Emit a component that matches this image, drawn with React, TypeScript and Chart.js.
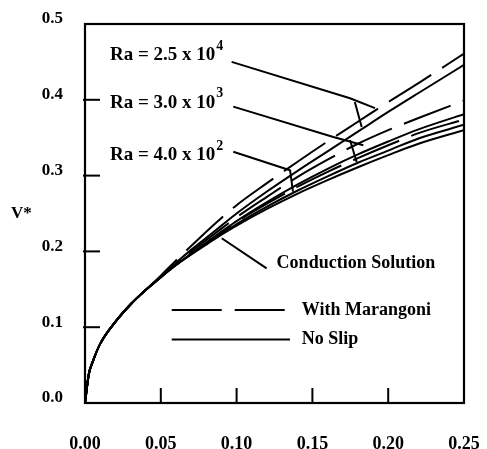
import React, { useEffect, useRef } from "react";
import { Chart, registerables } from "chart.js";

Chart.register(...registerables);

// x = dimensionless position, y = V*
const xs = [0, 0.0025, 0.005, 0.01, 0.02, 0.03, 0.04, 0.05, 0.06, 0.07, 0.08, 0.09, 0.10, 0.12, 0.14, 0.16, 0.18, 0.20, 0.22, 0.25];
const conduction = [0, 0.038, 0.054, 0.078, 0.107, 0.130, 0.149, 0.166, 0.182, 0.196, 0.209, 0.222, 0.234, 0.256, 0.276, 0.294, 0.311, 0.327, 0.342, 0.360];
const ra400NoSlip = [0, 0.038, 0.054, 0.078, 0.107, 0.130, 0.149, 0.166, 0.182, 0.196, 0.210, 0.223, 0.236, 0.259, 0.280, 0.299, 0.317, 0.333, 0.349, 0.367];
const ra400Marangoni = [0, 0.038, 0.054, 0.078, 0.107, 0.130, 0.149, 0.166, 0.182, 0.197, 0.211, 0.225, 0.239, 0.263, 0.285, 0.305, 0.323, 0.340, 0.356, 0.374];
const ra3000NoSlip = [0, 0.038, 0.054, 0.078, 0.107, 0.130, 0.149, 0.166, 0.182, 0.197, 0.212, 0.226, 0.240, 0.265, 0.288, 0.309, 0.328, 0.345, 0.361, 0.381];
const ra3000Marangoni = [0, 0.038, 0.054, 0.078, 0.107, 0.130, 0.149, 0.166, 0.184, 0.200, 0.215, 0.230, 0.245, 0.272, 0.298, 0.321, 0.342, 0.360, 0.376, 0.399];
const ra25000NoSlip = [0, 0.038, 0.054, 0.078, 0.107, 0.130, 0.149, 0.167, 0.185, 0.202, 0.218, 0.234, 0.250, 0.279, 0.306, 0.332, 0.358, 0.384, 0.409, 0.446];
const ra25000Marangoni = [0, 0.038, 0.054, 0.078, 0.107, 0.130, 0.149, 0.168, 0.188, 0.207, 0.226, 0.244, 0.261, 0.290, 0.318, 0.345, 0.371, 0.397, 0.422, 0.461];

const xTicks = [0, 0.05, 0.10, 0.15, 0.20, 0.25];
const yTicks = [0, 0.1, 0.2, 0.3, 0.4, 0.5];

// annotation texts (data coordinates)
const raLabels = ["Ra = 2.5 x 10", "Ra = 3.0 x 10", "Ra = 4.0 x 10"];
const raExponents = ["4", "3", "2"];
const raLabelX = 0.0165;
const raLabelY = [0.459, 0.396, 0.327];
// pointer polylines [x, y] in data space
const pointers: number[][][] = [
  [[0.0967, 0.450], [0.1748, 0.402], [0.1913, 0.389]],
  [[0.178, 0.397], [0.1825, 0.364]],
  [[0.0978, 0.391], [0.1638, 0.351], [0.1836, 0.340]],
  [[0.1748, 0.347], [0.1792, 0.318]],
  [[0.0978, 0.3315], [0.1352, 0.307]],
  [[0.1352, 0.308], [0.1372, 0.279]],
  [[0.0902, 0.2173], [0.1198, 0.1777]],
];
const conductionText = "Conduction Solution";
const conductionTextPos = [0.1264, 0.1843];
const legendItems = ["With Marangoni", "No Slip"];
const legendY = [0.1227, 0.0839];
const legendLineX = [0.0572, 0.1352];
const legendTextX = 0.143;

const FONT = "'Liberation Serif', 'DejaVu Serif', serif";
const DASH = [50, 13];

const decorPlugin = {
  id: "decor",
  afterDraw(chart: any) {
    const { ctx, chartArea, scales } = chart;
    const xs_ = scales.x;
    const ys_ = scales.y;
    const X = (v: number) => xs_.getPixelForValue(v);
    const Y = (v: number) => ys_.getPixelForValue(v);
    ctx.save();
    ctx.strokeStyle = "#000";
    ctx.fillStyle = "#000";
    ctx.lineWidth = 2.2;
    ctx.setLineDash([]);
    ctx.strokeRect(chartArea.left, chartArea.top, chartArea.right - chartArea.left, chartArea.bottom - chartArea.top);
    // inner ticks
    ctx.lineWidth = 2;
    xTicks.slice(1, -1).forEach((t) => {
      ctx.beginPath();
      ctx.moveTo(X(t), chartArea.bottom);
      ctx.lineTo(X(t), chartArea.bottom - 15);
      ctx.stroke();
    });
    yTicks.slice(1, -1).forEach((t) => {
      ctx.beginPath();
      ctx.moveTo(chartArea.left - 2, Y(t));
      ctx.lineTo(chartArea.left + 15, Y(t));
      ctx.stroke();
    });
    // axis title V*
    ctx.font = `bold 17px ${FONT}`;
    ctx.textBaseline = "middle";
    ctx.textAlign = "left";
    ctx.fillText("V*", 11, (chartArea.top + chartArea.bottom) / 2);
    // Ra labels
    raLabels.forEach((txt, i) => {
      const x0 = X(raLabelX);
      const y0 = Y(raLabelY[i]);
      ctx.font = `bold 19px ${FONT}`;
      ctx.fillText(txt, x0, y0);
      const w = ctx.measureText(txt).width;
      ctx.font = `bold 14px ${FONT}`;
      ctx.fillText(raExponents[i], x0 + w + 1, y0 - 9);
    });
    // pointers
    ctx.lineWidth = 2;
    pointers.forEach((pl) => {
      ctx.beginPath();
      pl.forEach(([px, py], j) => {
        if (j === 0) ctx.moveTo(X(px), Y(py));
        else ctx.lineTo(X(px), Y(py));
      });
      ctx.stroke();
    });
    // conduction text
    ctx.font = `bold 18px ${FONT}`;
    ctx.fillText(conductionText, X(conductionTextPos[0]), Y(conductionTextPos[1]));
    // legend
    legendItems.forEach((txt, i) => {
      ctx.setLineDash(i === 0 ? DASH : []);
      ctx.lineWidth = 2;
      ctx.beginPath();
      ctx.moveTo(X(legendLineX[0]), Y(legendY[i]));
      ctx.lineTo(X(legendLineX[1]), Y(legendY[i]));
      ctx.stroke();
      ctx.setLineDash([]);
      ctx.font = `bold 18px ${FONT}`;
      ctx.fillText(txt, X(legendTextX), Y(legendY[i]));
    });
    ctx.restore();
  },
};

export default function App() {
  const ref = useRef<HTMLCanvasElement | null>(null);
  useEffect(() => {
    if (!ref.current) return;
    const mk = (vals: number[], dashed: boolean, label: string) => ({
      label,
      data: xs.map((x, i) => ({ x, y: vals[i] })),
      borderColor: "#000",
      backgroundColor: "#000",
      borderWidth: 2,
      borderDash: dashed ? DASH : [],
      pointRadius: 0,
      cubicInterpolationMode: "monotone" as const,
      fill: false,
    });
    const chart = new Chart(ref.current, {
      type: "line",
      data: {
        datasets: [
          mk(conduction, false, "Conduction Solution"),
          mk(ra400NoSlip, false, "Ra 4.0e2 No Slip"),
          mk(ra400Marangoni, true, "Ra 4.0e2 With Marangoni"),
          mk(ra3000NoSlip, false, "Ra 3.0e3 No Slip"),
          mk(ra3000Marangoni, true, "Ra 3.0e3 With Marangoni"),
          mk(ra25000NoSlip, false, "Ra 2.5e4 No Slip"),
          mk(ra25000Marangoni, true, "Ra 2.5e4 With Marangoni"),
        ],
      },
      options: {
        animation: false,
        responsive: true,
        maintainAspectRatio: false,
        layout: { padding: { top: 24, right: 23, left: 0, bottom: 0 } },
        plugins: { legend: { display: false }, tooltip: { enabled: false } },
        scales: {
          x: {
            type: "linear",
            min: 0,
            max: 0.25,
            afterFit: (s: any) => { s.height = 46; s.paddingLeft = 0; s.paddingRight = 0; },
            afterBuildTicks: (s: any) => { s.ticks = xTicks.map((v) => ({ value: v })); },
            grid: { display: false, drawTicks: false },
            border: { display: false },
            ticks: {
              padding: 31,
              maxRotation: 0,
              color: "#000",
              font: { family: FONT, size: 18, weight: "bold" },
              callback: (v: any) => Number(v).toFixed(2),
            },
          },
          y: {
            type: "linear",
            min: 0,
            max: 0.5,
            afterFit: (s: any) => { s.width = 85; s.paddingTop = 0; s.paddingBottom = 0; },
            afterBuildTicks: (s: any) => { s.ticks = yTicks.map((v) => ({ value: v })); },
            grid: { display: false, drawTicks: false },
            border: { display: false },
            ticks: {
              padding: 22,
              labelOffset: -5,
              color: "#000",
              font: { family: FONT, size: 17, weight: "bold" },
              callback: (v: any) => Number(v).toFixed(1),
            },
          },
        },
      },
      plugins: [decorPlugin],
    });
    return () => chart.destroy();
  }, []);
  return (
    <div style={{ position: "fixed", left: 0, top: 0, width: 487, height: 449, background: "#fff" }}>
      <canvas ref={ref} />
    </div>
  );
}
